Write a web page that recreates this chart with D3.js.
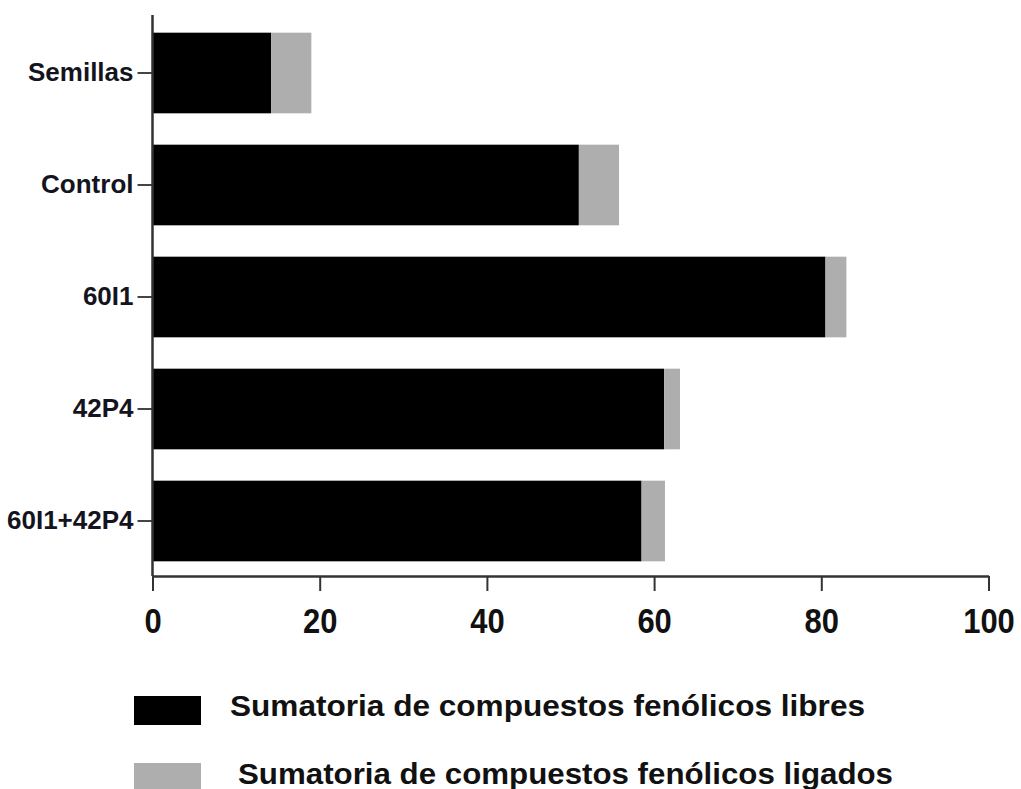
<!DOCTYPE html>
<html>
<head>
<meta charset="utf-8">
<script src="https://cdn.jsdelivr.net/npm/d3@7"></script>
<style>
  html, body { margin: 0; padding: 0; background: #fff; }
  svg { display: block; }
  text { font-family: "Liberation Sans", Arial, sans-serif; }
</style>
</head>
<body>
<svg id="chart" width="1021" height="789"></svg>
<script>
const categories = ["Semillas", "Control", "60I1", "42P4", "60I1+42P4"];
const libres  = [14.2, 51.0, 80.5, 61.2, 58.5];
const ligados = [4.8, 4.8, 2.5, 1.9, 2.8];
const xTicks = [0, 20, 40, 60, 80, 100];
const seriesNames = ["Sumatoria de compuestos fenólicos libres", "Sumatoria de compuestos fenólicos ligados"];
const seriesColors = ["#000000", "#aeaeae"];

const svg = d3.select("#chart");
const x = d3.scaleLinear().domain([0, 100]).range([152.5, 988.5]);
const y = d3.scaleBand().domain(categories).range([17, 577]).paddingInner(0.28).paddingOuter(0.14);

const rows = categories.map((c, i) => ({ cat: c, libres: libres[i], ligados: ligados[i] }));
const stack = d3.stack().keys(["libres", "ligados"])(rows);

svg.append("g").selectAll("g").data(stack).join("g")
  .attr("fill", (d, i) => seriesColors[i])
  .selectAll("rect").data(d => d).join("rect")
  .attr("x", d => x(d[0]))
  .attr("y", d => y(d.data.cat))
  .attr("width", d => x(d[1]) - x(d[0]))
  .attr("height", y.bandwidth());

const axisY = 576;
// X axis
const gx = svg.append("g").attr("transform", `translate(0,${axisY})`)
  .call(d3.axisBottom(x).tickValues(xTicks).tickSize(15).tickSizeOuter(0).tickPadding(16));
gx.select(".domain").attr("stroke", "#333").attr("stroke-width", 2.5);
gx.selectAll(".tick line").attr("stroke", "#333").attr("stroke-width", 2);
gx.selectAll(".tick text")
  .attr("font-size", 36).attr("font-weight", "bold").attr("fill", "#111")
  .attr("transform", "scale(0.86,1)")
  .attr("x", function() { return 0; });

// Y axis
const gy = svg.append("g").attr("transform", `translate(${x(0)},0)`)
  .call(d3.axisLeft(y).tickSize(15).tickSizeOuter(0).tickPadding(4));
gy.select(".domain").remove();
gy.selectAll(".tick line").attr("stroke", "#444").attr("stroke-width", 2);
gy.selectAll(".tick text")
  .attr("font-size", 26).attr("font-weight", "bold").attr("fill", "#14141f");
gy.append("line")
  .attr("x1", 0).attr("x2", 0).attr("y1", 15).attr("y2", axisY)
  .attr("stroke", "#333").attr("stroke-width", 2.5);

// Legend
const legendRows = [
  { name: seriesNames[0], color: seriesColors[0], ry: 696, tx: 230, ty: 716, len: 635 },
  { name: seriesNames[1], color: seriesColors[1], ry: 763, tx: 238, ty: 784, len: 655 }
];
const lg = svg.append("g");
lg.selectAll("rect").data(legendRows).join("rect")
  .attr("x", 134).attr("y", d => d.ry).attr("width", 67).attr("height", 29)
  .attr("fill", d => d.color);
lg.selectAll("text").data(legendRows).join("text")
  .attr("x", d => d.tx).attr("y", d => d.ty)
  .attr("font-size", 29).attr("font-weight", "bold").attr("fill", "#111")
  .attr("textLength", d => d.len).attr("lengthAdjust", "spacingAndGlyphs")
  .text(d => d.name);
</script>
</body>
</html>
